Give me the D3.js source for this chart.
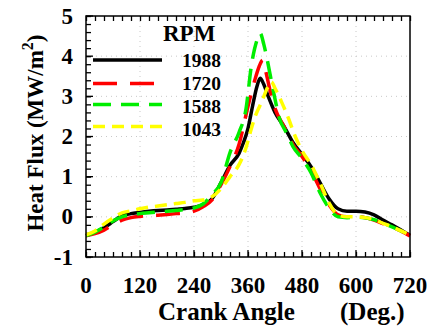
<!DOCTYPE html>
<html>
<head>
<meta charset="utf-8">
<script src="https://cdn.jsdelivr.net/npm/d3@7"></script>
<style>
  body { margin: 0; background: #fff; }
</style>
</head>
<body>
<script>
// ----- Data -----
const rpmLabels = ["1988", "1720", "1588", "1043"];

const angle1988 = [0, 20, 40, 60, 80, 100, 120, 140, 160, 180, 200, 220, 240, 260, 280, 300, 320, 340, 350, 360, 370, 380, 387, 395, 405, 420, 440, 460, 480, 500, 520, 540, 560, 580, 600, 620, 640, 660, 680, 700, 720];
const flux1988 = [-0.47, -0.38, -0.27, -0.12, 0.03, 0.08, 0.11, 0.14, 0.16, 0.17, 0.19, 0.21, 0.24, 0.30, 0.45, 0.85, 1.28, 1.58, 1.85, 2.2, 2.75, 3.25, 3.45, 3.3, 3.0, 2.6, 2.25, 1.85, 1.55, 1.25, 0.85, 0.45, 0.2, 0.14, 0.14, 0.12, 0.05, -0.08, -0.2, -0.33, -0.46];

const angle1720 = [0, 20, 40, 60, 80, 100, 120, 140, 160, 180, 200, 220, 240, 260, 280, 300, 320, 340, 360, 375, 385, 393, 400, 410, 420, 440, 460, 480, 500, 520, 540, 560, 580, 600, 620, 640, 660, 680, 700, 720];
const flux1720 = [-0.47, -0.42, -0.33, -0.2, -0.08, -0.02, 0.01, 0.03, 0.04, 0.06, 0.08, 0.1, 0.14, 0.25, 0.42, 0.8, 1.25, 1.8, 2.75, 3.4, 3.75, 3.9, 3.6, 3.1, 2.7, 2.25, 1.8, 1.5, 1.15, 0.7, 0.3, 0.05, 0.0, 0.0, -0.02, -0.08, -0.17, -0.25, -0.35, -0.48];

const angle1588 = [0, 20, 40, 60, 80, 100, 120, 140, 160, 180, 200, 220, 240, 260, 280, 300, 320, 340, 355, 368, 380, 387, 395, 402, 416, 430, 445, 460, 480, 500, 520, 540, 560, 580, 600, 620, 640, 660, 680, 700, 720];
const flux1588 = [-0.47, -0.38, -0.25, -0.1, 0.0, 0.05, 0.08, 0.1, 0.12, 0.14, 0.16, 0.18, 0.22, 0.32, 0.55, 0.85, 1.6, 2.1, 2.65, 3.8, 4.4, 4.57, 4.3, 3.95, 3.15, 2.45, 2.1, 1.75, 1.45, 1.1, 0.6, 0.22, 0.0, -0.02, -0.01, -0.02, -0.07, -0.16, -0.25, -0.35, -0.47];

const angle1043 = [0, 20, 40, 60, 80, 100, 120, 140, 160, 180, 200, 220, 240, 260, 280, 300, 320, 340, 355, 365, 376, 390, 405, 412, 420, 435, 450, 465, 480, 500, 520, 540, 560, 580, 600, 620, 640, 660, 680, 700, 720];
const flux1043 = [-0.45, -0.35, -0.18, -0.03, 0.1, 0.15, 0.2, 0.24, 0.27, 0.3, 0.33, 0.36, 0.4, 0.42, 0.5, 0.7, 1.0, 1.3, 1.7, 2.1, 2.5, 2.85, 3.25, 3.36, 3.2, 2.85, 2.45, 2.0, 1.65, 1.3, 0.85, 0.35, 0.05, 0.0, 0.0, -0.02, -0.07, -0.16, -0.25, -0.35, -0.45];

const xTickValues = [0, 120, 240, 360, 480, 600, 720];
const yTickValues = [-1, 0, 1, 2, 3, 4, 5];

// ----- Styles -----
const seriesStyle = [
    { color: "#000000", dash: null },
    { color: "#ff0000", dash: "24,13" },
    { color: "#00ee00", dash: "18,10" },
    { color: "#ffff00", dash: "12,7" }
];

const W = 430, H = 331;
const PLOT = { left: 86, right: 410, top: 16, bottom: 257 };
const FONT = 23;
const SERIF = "'Liberation Serif', 'Times New Roman', 'DejaVu Serif', serif";

// Main program
function main() {
    const series = [
        { angle: angle1988, flux: flux1988 },
        { angle: angle1720, flux: flux1720 },
        { angle: angle1588, flux: flux1588 },
        { angle: angle1043, flux: flux1043 }
    ];

    const x = d3.scaleLinear().domain([0, 720]).range([PLOT.left, PLOT.right]);
    const y = d3.scaleLinear().domain([-1, 5]).range([PLOT.bottom, PLOT.top]);

    const svg = d3.select("body").append("svg")
        .attr("width", W)
        .attr("height", H)
        .attr("font-family", SERIF)
        .attr("font-weight", "bold");

    // ----- Grid -----
    const grid = svg.append("g")
        .attr("stroke", "#c8c8c8")
        .attr("stroke-width", 1)
        .attr("stroke-dasharray", "1,4");
    grid.selectAll(".gx")
        .data(xTickValues.slice(1, -1))
        .enter().append("line")
            .attr("x1", d => x(d)).attr("x2", d => x(d))
            .attr("y1", PLOT.top).attr("y2", PLOT.bottom);
    grid.selectAll(".gy")
        .data(yTickValues.slice(1, -1))
        .enter().append("line")
            .attr("x1", PLOT.left).attr("x2", PLOT.right)
            .attr("y1", d => y(d)).attr("y2", d => y(d));

    // ----- Axes (ticks inside) -----
    const xMinor = d3.range(0, 721, 20);
    const yMinor = d3.range(-1, 5.001, 0.2);

    const bottomAxis = d3.axisTop(x).tickValues(xMinor).tickSize(5).tickFormat("");
    const topAxis = d3.axisBottom(x).tickValues(xMinor).tickSize(5).tickFormat("");
    const leftAxis = d3.axisRight(y).tickValues(yMinor).tickSize(5).tickFormat("");

    svg.append("g").attr("transform", `translate(0,${PLOT.bottom})`).call(bottomAxis);
    svg.append("g").attr("transform", `translate(0,${PLOT.top})`).call(topAxis);
    svg.append("g").attr("transform", `translate(${PLOT.left},0)`).call(leftAxis);
    svg.selectAll(".domain").remove();
    svg.selectAll(".tick line").attr("stroke", "#000").attr("stroke-width", 1.3);

    // major ticks a bit longer
    svg.append("g").selectAll("line")
        .data(xTickValues)
        .enter().append("line")
            .attr("x1", d => x(d)).attr("x2", d => x(d))
            .attr("y1", PLOT.bottom).attr("y2", PLOT.bottom - 7)
            .attr("stroke", "#000").attr("stroke-width", 1.3);
    svg.append("g").selectAll("line")
        .data(yTickValues)
        .enter().append("line")
            .attr("x1", PLOT.left).attr("x2", PLOT.left + 7)
            .attr("y1", d => y(d)).attr("y2", d => y(d))
            .attr("stroke", "#000").attr("stroke-width", 1.3);

    // tick labels
    svg.append("g").selectAll("text")
        .data(xTickValues)
        .enter().append("text")
            .attr("x", d => x(d))
            .attr("y", 293)
            .attr("text-anchor", "middle")
            .attr("font-size", FONT)
            .text(d => d);
    svg.append("g").selectAll("text")
        .data(yTickValues)
        .enter().append("text")
            .attr("x", 73)
            .attr("y", d => y(d))
            .attr("dy", "0.33em")
            .attr("text-anchor", "end")
            .attr("font-size", FONT)
            .text(d => d);

    // ----- Curves -----
    const line = d3.line()
        .x(d => x(d[0]))
        .y(d => y(d[1]))
        .curve(d3.curveMonotoneX);

    svg.append("g").selectAll("path")
        .data(series)
        .enter().append("path")
            .attr("d", s => line(d3.zip(s.angle, s.flux)))
            .attr("fill", "none")
            .attr("stroke", (s, i) => seriesStyle[i].color)
            .attr("stroke-width", 3.5)
            .attr("stroke-dasharray", (s, i) => seriesStyle[i].dash);

    // ----- Frame -----
    svg.append("rect")
        .attr("x", PLOT.left).attr("y", PLOT.top)
        .attr("width", PLOT.right - PLOT.left)
        .attr("height", PLOT.bottom - PLOT.top)
        .attr("fill", "none")
        .attr("stroke", "#000")
        .attr("stroke-width", 1.5);

    // ----- Legend -----
    const legendY = [60, 83.5, 104.5, 126.5];
    const labelY = [67, 90, 113, 136];
    const legend = svg.append("g");
    legend.append("text")
        .attr("x", 163).attr("y", 41)
        .attr("font-size", FONT)
        .text("RPM");
    legend.selectAll("line")
        .data(rpmLabels)
        .enter().append("line")
            .attr("x1", 93).attr("x2", 162)
            .attr("y1", (d, i) => legendY[i]).attr("y2", (d, i) => legendY[i])
            .attr("stroke", (d, i) => seriesStyle[i].color)
            .attr("stroke-width", 3.5)
            .attr("stroke-dasharray", (d, i) => seriesStyle[i].dash);
    legend.selectAll(".lab")
        .data(rpmLabels)
        .enter().append("text")
            .attr("x", 182)
            .attr("y", (d, i) => labelY[i])
            .attr("font-size", 19.5)
            .text(d => d);

    // ----- Axis titles -----
    svg.append("text")
        .attr("x", 158).attr("y", 320)
        .attr("font-size", 25)
        .text("Crank Angle");
    svg.append("text")
        .attr("x", 340).attr("y", 320)
        .attr("font-size", 25)
        .text("(Deg.)");

    const yTitle = svg.append("text")
        .attr("transform", "translate(43,133) rotate(-90)")
        .attr("text-anchor", "middle")
        .attr("font-size", FONT);
    yTitle.append("tspan").text("Heat Flux (MW/m");
    yTitle.append("tspan").attr("dy", -10).attr("font-size", 16).text("2");
    yTitle.append("tspan").attr("dy", 10).text(")");
}

main();
</script>
</body>
</html>
